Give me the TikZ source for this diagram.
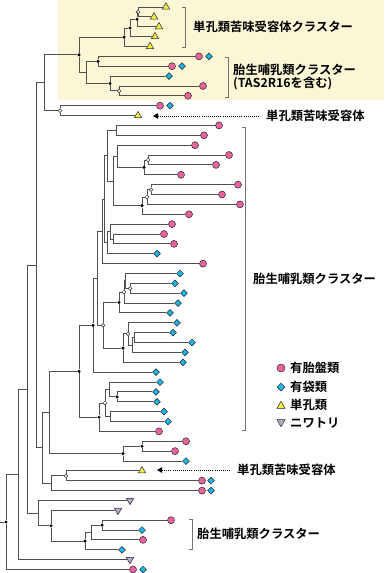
\documentclass[tikz,border=0pt]{standalone}
\usepackage{fontspec}
\newfontfamily\jp{Noto Sans CJK JP Bold}
\usetikzlibrary{shapes.geometric,arrows.meta}
\definecolor{pinkc}{RGB}{234,98,158}
\definecolor{bluec}{RGB}{30,182,232}
\definecolor{yelc}{RGB}{246,236,70}
\definecolor{lavc}{RGB}{184,168,204}
\definecolor{bgy}{RGB}{251,247,214}
\definecolor{linec}{RGB}{80,80,80}
\begin{document}
\begin{tikzpicture}[x=1pt,y=-1pt,
  br/.style={draw=linec, line width=0.9pt},
  brk/.style={draw=black!55, line width=0.8pt},
  bdot/.style={circle, fill=black, inner sep=0, minimum size=3.4pt},
  wdot/.style={circle, draw=black!80, fill=white, line width=0.5pt, inner sep=0, minimum size=3.8pt},
  pk/.style={circle, draw=black!85, fill=pinkc, line width=0.5pt, inner sep=0, minimum size=7pt},
  bl/.style={diamond, draw=black!85, fill=bluec, line width=0.5pt, inner sep=0, minimum size=7pt},
  yt/.style={regular polygon, regular polygon sides=3, draw=black!85, fill=yelc, line width=0.5pt, inner sep=0, minimum size=8.5pt},
  gt/.style={yt, shape border rotate=180, fill=lavc},
  lab/.style={font=\jp\fontsize{12.3}{14}\selectfont, anchor=west, inner sep=0},
  dotar/.style={draw=black, line width=0.8pt, dash pattern=on 0.8pt off 1.3pt, -{Triangle[length=5pt,width=5.5pt]}}]
\useasboundingbox (0,0) rectangle (384,573);
\fill[bgy] (58,0) rectangle (384,100);
% tips
\node[yt] (t1) at (166,7) {};
\node[yt] (t2) at (154,16.9) {};
\node[yt] (t3) at (159,26.7) {};
\node[yt] (t4) at (155,36.6) {};
\node[yt] (t5) at (150,46.5) {};
\node[pk] (t6) at (199,56.4) {}; \node[bl] (t6b) at (209,56.4) {};
\node[pk] (t7) at (172,66.2) {}; \node[bl] (t7b) at (182,66.2) {};
\node[bl] (t8) at (169,76.1) {};
\node[pk] (t9) at (203,86) {};
\node[pk] (t10) at (188,95.8) {};
\node[pk] (t11) at (160,105.7) {}; \node[bl] (t11b) at (170,105.7) {};
\node[yt] (t12) at (138,115.6) {};
\node[pk] (t13) at (219,125.4) {};
\node[pk] (t14) at (204,135.3) {};
\node[pk] (t15) at (195,145.2) {};
\node[pk] (t16) at (229,155) {};
\node[pk] (t17) at (216,164.9) {};
\node[pk] (t18) at (181,174.8) {};
\node[pk] (t19) at (238,184.7) {};
\node[pk] (t20) at (222,194.5) {};
\node[pk] (t21) at (240,204.4) {};
\node[pk] (t22) at (189,214.3) {};
\node[pk] (t23) at (172,224.1) {};
\node[pk] (t24) at (164,234) {};
\node[pk] (t25) at (174,243.9) {};
\node[bl] (t26) at (157,253.7) {};
\node[pk] (t27) at (203,263.6) {};
\node[bl] (t28) at (180,273.5) {};
\node[bl] (t29) at (175,283.3) {};
\node[bl] (t30) at (184,293.2) {};
\node[bl] (t31) at (178,303.1) {};
\node[bl] (t32) at (170,312.9) {};
\node[bl] (t33) at (177,322.8) {};
\node[bl] (t34) at (173,332.7) {};
\node[bl] (t35) at (192,342.5) {};
\node[bl] (t36) at (185,352.4) {};
\node[bl] (t37) at (183,362.3) {};
\node[bl] (t38) at (156,372.1) {};
\node[bl] (t39) at (160,382) {};
\node[bl] (t40) at (156,391.9) {};
\node[bl] (t41) at (157,401.8) {};
\node[bl] (t42) at (164,411.6) {};
\node[bl] (t43) at (168,421.5) {};
\node[pk] (t44) at (159,431.4) {};
\node[pk] (t45) at (186,441.2) {};
\node[pk] (t46) at (175,451.1) {};
\node[bl] (t47) at (186,461) {};
\node[yt] (t48) at (142,470.8) {};
\node[pk] (t49) at (202,480.7) {}; \node[bl] (t49b) at (211,480.7) {};
\node[pk] (t50) at (202,490.6) {}; \node[bl] (t50b) at (211,490.6) {};
\node[gt] (t51) at (130,500.4) {};
\node[gt] (t52) at (118,510.3) {};
\node[pk] (t53) at (171,520.2) {};
\node[bl] (t54) at (142,530) {};
\node[pk] (t55) at (143,539.9) {};
\node[bl] (t56) at (122,549.8) {};
\node[gt] (t57) at (130,559.6) {};
\node[pk] (t58) at (133,569.5) {}; \node[bl] (t58b) at (143,569.5) {};
% internal nodes
\node[wdot] (a1) at (138,12) {};
\node[bdot] (a2) at (137,19.3) {};
\node[bdot] (a3) at (130,28) {};
\node[bdot] (a4) at (124,37.2) {};
\node[bdot] (a5) at (98,61.3) {};
\node[wdot] (a6) at (119,90.9) {};
\node[bdot] (a7) at (110,83.5) {};
\coordinate (a8) at (86,72.4);
\node[bdot] (a9) at (79,54.8) {};
\node[wdot] (a10) at (60,110.6) {};
\coordinate (a11) at (44,82.7);
\coordinate (b1) at (116,130.4);
\node[wdot] (b2) at (148,160) {};
\node[bdot] (b3) at (144,167.4) {};
\coordinate (b4) at (117,156.3);
\node[wdot] (b5) at (151,189.6) {};
\node[wdot] (b6) at (147,197) {};
\node[bdot] (b7) at (142,205.6) {};
\coordinate (b8) at (113,181);
\coordinate (b9) at (107,155.7);
\coordinate (b10) at (113,239);
\coordinate (b11) at (110,231.6);
\coordinate (b12) at (107,242.7);
\coordinate (b13) at (104,199.2);
\coordinate (b14) at (102,231.4);
\node[wdot] (c1) at (130,288.3) {};
\coordinate (c2) at (125,280.9);
\node[wdot] (c3) at (124,292) {};
\node[bdot] (c4) at (119,302.5) {};
\coordinate (c5) at (134,337.6);
\coordinate (c6) at (132,345);
\node[wdot] (c7) at (128,333.9) {};
\node[bdot] (c8) at (123,348.1) {};
\node[wdot] (c9) at (103,325.3) {};
\coordinate (b15) at (97.5,278.4);
\node[bdot] (c10) at (93,325.3) {};
\node[bdot] (d1) at (117,396.9) {};
\coordinate (d2) at (109,389.4);
\coordinate (d3) at (110,416.6);
\node[wdot] (d4) at (105,403) {};
\node[bdot] (d5) at (99,417.2) {};
\node[bdot] (d6) at (79,371.3) {};
\node[bdot] (d7) at (142,446.2) {};
\node[bdot] (d8) at (123,453.6) {};
\coordinate (d9) at (49,412.4);
\node[wdot] (e1) at (66,475.8) {};
\coordinate (e2) at (51,483.2);
\coordinate (e3) at (42,447.8);
\coordinate (e4) at (36,265.2);
\node[bdot] (f1) at (102,525.1) {};
\coordinate (f2) at (91,532.5);
\node[bdot] (f3) at (85,541.1) {};
\node[bdot] (f4) at (51,525.7) {};
\coordinate (f5) at (38,513.1);
\coordinate (e5) at (27,389.2);
\coordinate (e6) at (18,474.4);
\node[bdot] (rt) at (6,522) {};
\coordinate (r0) at (0,522);
% branches
\draw[br] (a1) |- (t1) (a1) |- (t2)
 (a2) |- (a1) (a2) |- (t3)
 (a3) |- (a2) (a3) |- (t4)
 (a4) |- (a3) (a4) |- (t5)
 (a5) |- (t6) (a5) |- (t7)
 (a6) |- (t9) (a6) |- (t10)
 (a7) |- (t8) (a7) |- (a6)
 (a8) |- (a5) (a8) |- (a7)
 (a9) |- (a4) (a9) |- (a8)
 (a10) |- (t11) (a10) |- (t12)
 (a11) |- (a9) (a11) |- (a10)
 (b1) |- (t13) (b1) |- (t14)
 (b2) |- (t16) (b2) |- (t17)
 (b3) |- (b2) (b3) |- (t18)
 (b4) |- (t15) (b4) |- (b3)
 (b5) |- (t19) (b5) |- (t20)
 (b6) |- (b5) (b6) |- (t21)
 (b7) |- (b6) (b7) |- (t22)
 (b8) |- (b4) (b8) |- (b7)
 (b9) |- (b1) (b9) |- (b8)
 (b10) |- (t24) (b10) |- (t25)
 (b11) |- (t23) (b11) |- (b10)
 (b12) |- (b11) (b12) |- (t26)
 (b13) |- (b9) (b13) |- (b12)
 (b14) |- (b13) (b14) |- (t27)
 (c1) |- (t29) (c1) |- (t30)
 (c2) |- (t28) (c2) |- (c1)
 (c3) |- (c2) (c3) |- (t31)
 (c4) |- (c3) (c4) |- (t32)
 (c5) |- (t34) (c5) |- (t35)
 (c6) |- (c5) (c6) |- (t36)
 (c7) |- (t33) (c7) |- (c6)
 (c8) |- (c7) (c8) |- (t37)
 (c9) |- (c4) (c9) |- (c8)
 (b15) |- (b14) (b15) |- (c9)
 (c10) |- (b15) (c10) |- (t38)
 (d1) |- (t40) (d1) |- (t41)
 (d2) |- (t39) (d2) |- (d1)
 (d3) |- (t42) (d3) |- (t43)
 (d4) |- (d2) (d4) |- (d3)
 (d5) |- (d4) (d5) |- (t44)
 (d6) |- (c10) (d6) |- (d5)
 (d7) |- (t45) (d7) |- (t46)
 (d8) |- (d7) (d8) |- (t47)
 (d9) |- (d6) (d9) |- (d8)
 (e1) |- (t48) (e1) |- (t49)
 (e2) |- (e1) (e2) |- (t50)
 (e3) |- (d9) (e3) |- (e2)
 (e4) |- (a11) (e4) |- (e3)
 (f1) |- (t53) (f1) |- (t54)
 (f2) |- (f1) (f2) |- (t55)
 (f3) |- (f2) (f3) |- (t56)
 (f4) |- (t52) (f4) |- (f3)
 (f5) |- (t51) (f5) |- (f4)
 (e5) |- (e4) (e5) |- (f5)
 (e6) |- (e5) (e6) |- (t57)
 (rt) |- (e6) (rt) |- (t58)
 (r0) -- (rt);
% brackets and labels
\draw[brk] (182,7) -- (185,7) -- (185,47) -- (182,47);
\node[lab] (L1) at (193,27) {単孔類苦味受容体クラスター};
\draw[brk] (225,57) -- (228,57) -- (228,97) -- (225,97);
\node[lab] (L2) at (233,70) {胎生哺乳類クラスター};
\node[lab] (L3) at (233,84) {(TAS2R16を含む)};
\node[lab] (L4) at (266,116) {単孔類苦味受容体};
\coordinate (ar1) at (153,116);
\draw[dotar] ([xshift=-7pt]L4.west) -- (ar1);
\draw[brk] (242,127) -- (245,127) -- (245,430) -- (242,430);
\node[lab] (L5) at (253,279) {胎生哺乳類クラスター};
\node[lab] (L7) at (237,470) {単孔類苦味受容体};
\coordinate (ar2) at (157,470);
\draw[dotar] ([xshift=-7pt]L7.west) -- (ar2);
\draw[brk] (189,519) -- (192,519) -- (192,549) -- (189,549);
\node[lab] (L8) at (197,534) {胎生哺乳類クラスター};
% legend
\node[pk, minimum size=8pt] (g1) at (281,368) {};
\node[lab] (g1t) at (290,368) {有胎盤類};
\node[bl, minimum size=8pt] (g2) at (281,387) {};
\node[lab] (g2t) at (290,387) {有袋類};
\node[yt, minimum size=9.5pt] (g3) at (281,406) {};
\node[lab] (g3t) at (290,405) {単孔類};
\node[gt, minimum size=9.5pt] (g4) at (281,422) {};
\node[lab] (g4t) at (290,423) {ニワトリ};
\end{tikzpicture}
\end{document}
